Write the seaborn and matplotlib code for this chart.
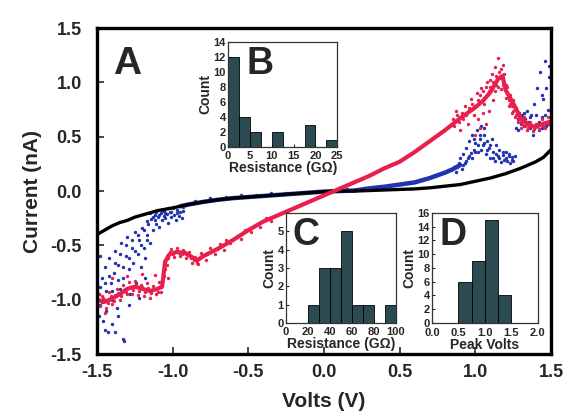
import numpy as np
import pandas as pd
import matplotlib
matplotlib.use("Agg")
import matplotlib.pyplot as plt
import seaborn as sns

# ---------------- main I-V traces ----------------
black_v = [-1.50, -1.45, -1.40, -1.35, -1.30, -1.25, -1.20, -1.15, -1.10, -1.00,
           -0.90, -0.80, -0.70, -0.60, -0.50, -0.40, -0.30, -0.20, -0.10, 0.00,
           0.10, 0.20, 0.30, 0.40, 0.50, 0.60, 0.70, 0.80, 0.90, 1.00,
           1.10, 1.20, 1.30, 1.40, 1.45, 1.50]
black_i = [-0.40, -0.36, -0.32, -0.29, -0.27, -0.24, -0.22, -0.20, -0.18, -0.155,
           -0.125, -0.10, -0.08, -0.065, -0.055, -0.045, -0.035, -0.025, -0.015, -0.005,
           0.00, 0.00, 0.005, 0.01, 0.015, 0.02, 0.03, 0.045, 0.06, 0.09,
           0.12, 0.16, 0.21, 0.27, 0.31, 0.38]

red_v = [-1.50, -1.45, -1.40, -1.35, -1.30, -1.25, -1.20, -1.15, -1.10, -1.07,
         -1.05, -1.02, -0.97, -0.92, -0.88, -0.84, -0.80, -0.70, -0.60, -0.50,
         -0.40, -0.30, -0.20, -0.10, 0.00, 0.10, 0.20, 0.30, 0.40, 0.50,
         0.60, 0.70, 0.80, 0.90, 1.00, 1.05, 1.10, 1.15, 1.18, 1.20,
         1.25, 1.30, 1.35, 1.40, 1.45, 1.50]
red_i = [-1.00, -1.02, -0.99, -0.95, -0.90, -0.88, -0.90, -0.92, -0.90, -0.88,
         -0.65, -0.58, -0.56, -0.57, -0.60, -0.64, -0.60, -0.53, -0.45, -0.36,
         -0.28, -0.22, -0.16, -0.10, -0.04, 0.02, 0.08, 0.14, 0.21, 0.27,
         0.36, 0.46, 0.56, 0.67, 0.77, 0.83, 0.91, 1.03, 1.06, 0.93,
         0.81, 0.67, 0.61, 0.59, 0.62, 0.64]

red_pts_v = [-1.49, -1.48, -1.46, -1.44, -1.42, -1.40, -1.38, -1.37, -1.35, -1.33,
             -1.31, -1.29, -1.27, -1.25, -1.23, -1.21, -1.19, -1.17, -1.15, -1.13,
             -1.11, -1.09, -1.08, -1.06, -1.05, -1.04, -1.03, -1.01, -0.99, -0.97,
             -0.95, -0.93, -0.91, -0.89, -0.87, -0.85, -0.83, -0.81, -0.78, -0.75,
             -0.72, -0.69, -0.66, -1.40, -1.30, -1.20, -1.12, -1.03, -1.45,
             -1.50, -1.47, -1.45, -1.43, -1.41, -1.39, -1.36, -1.34, -1.32, -1.30,
             -1.28, -1.26, -1.24, -1.22, -1.20, -1.18, -1.16, -1.14, -1.12, -1.10,
             -1.08, -1.04, -1.02, -1.00, -0.98, -0.96, -0.94, -0.92, -0.90, -0.88,
             -0.86, -0.84, -0.82, -0.80, -0.77, -0.74, -0.71,
             -0.65, -0.62, -0.58, -0.55, -0.52, -0.48, -0.45, -0.42, -0.38, -0.35,
             0.85, 0.88, 0.90, 0.93, 0.95, 0.97, 0.99, 1.01, 1.02, 1.04,
             1.05, 1.06, 1.08, 1.09, 1.10, 1.11, 1.12, 1.13, 1.14, 1.15,
             1.16, 1.17, 1.18, 1.19, 1.20, 1.21, 1.22, 1.23, 1.24, 1.25,
             1.26, 1.27, 1.28, 1.29, 1.30, 1.32, 1.34, 1.36, 1.38, 1.40,
             1.42, 1.44, 1.46, 1.48, 1.50, 1.00, 1.03, 1.07,
             0.86, 0.87, 0.89, 0.91, 0.92, 0.94, 0.96, 0.98, 1.00, 1.02,
             1.03, 1.05, 1.06, 1.07, 1.08, 1.09, 1.10, 1.12, 1.13, 1.14,
             1.15, 1.16, 1.17, 1.18, 1.19, 1.20, 1.21, 1.22, 1.23, 1.24,
             1.25, 1.26, 1.27, 1.28, 1.29, 1.30, 1.31, 1.33, 1.35, 1.37,
             1.39, 1.41, 1.43, 1.45, 1.47, 1.49]
red_pts_i = [-0.95, -1.06, -0.98, -1.08, -0.93, -1.04, -0.96, -0.90, -1.00, -0.86,
             -0.93, -0.84, -0.95, -0.83, -0.96, -0.86, -0.97, -0.85, -0.98, -0.87,
             -0.95, -0.84, -0.93, -0.78, -0.72, -0.68, -0.62, -0.53, -0.61, -0.52,
             -0.60, -0.54, -0.62, -0.56, -0.66, -0.61, -0.67, -0.57, -0.63, -0.52,
             -0.58, -0.49, -0.54, -0.80, -0.78, -0.76, -0.77, -0.80, -1.12,
             -1.02, -0.97, -1.00, -1.03, -0.97, -1.01, -0.94, -0.97, -0.91, -0.95,
             -0.88, -0.91, -0.86, -0.92, -0.88, -0.93, -0.89, -0.94, -0.90, -0.93,
             -0.88, -0.60, -0.56, -0.58, -0.55, -0.57, -0.58, -0.56, -0.59, -0.62,
             -0.63, -0.66, -0.62, -0.60, -0.58, -0.55, -0.53,
             -0.45, -0.48, -0.42, -0.44, -0.36, -0.38, -0.31, -0.33, -0.25, -0.28,
             0.66, 0.70, 0.56, 0.78, 0.62, 0.85, 0.70, 0.90, 0.66, 0.95,
             0.72, 0.86, 1.00, 0.74, 0.96, 1.08, 0.84, 1.14, 0.98, 1.22,
             1.10, 0.94, 1.16, 1.00, 0.86, 0.96, 0.78, 0.88, 0.72, 0.84,
             0.68, 0.76, 0.64, 0.72, 0.58, 0.68, 0.56, 0.64, 0.55, 0.62,
             0.57, 0.66, 0.58, 0.68, 0.60, 0.52, 0.58, 0.62,
             0.60, 0.74, 0.64, 0.72, 0.66, 0.70, 0.76, 0.80, 0.78, 0.84,
             0.88, 0.92, 0.80, 0.96, 0.88, 0.92, 1.02, 1.00, 0.92, 1.06,
             0.96, 1.04, 1.12, 0.98, 1.08, 0.98, 0.90, 0.84, 0.80, 0.78,
             0.74, 0.76, 0.70, 0.70, 0.66, 0.64, 0.62, 0.60, 0.58, 0.60,
             0.57, 0.60, 0.62, 0.60, 0.64, 0.62]

blue_v = [-0.95, -0.90, -0.80, -0.70, -0.60, -0.50, -0.40, -0.30, -0.20, -0.10,
          0.00, 0.10, 0.20, 0.30, 0.40, 0.50, 0.60, 0.70, 0.80, 0.85, 0.90]
blue_i = [-0.14, -0.125, -0.10, -0.08, -0.065, -0.055, -0.045, -0.035, -0.025, -0.015,
          -0.005, 0.00, 0.005, 0.025, 0.04, 0.06, 0.08, 0.12, 0.17, 0.20, 0.24]

blue_pts_v = [-1.50, -1.49, -1.48, -1.47, -1.46, -1.45, -1.44, -1.43, -1.42, -1.41,
              -1.40, -1.39, -1.38, -1.37, -1.36, -1.35, -1.34, -1.33, -1.32, -1.31,
              -1.30, -1.29, -1.28, -1.27, -1.26, -1.25, -1.24, -1.23, -1.22, -1.21,
              -1.20, -1.19, -1.18, -1.17, -1.16, -1.15, -1.14, -1.13, -1.12, -1.11,
              -1.10, -1.09, -1.08, -1.07, -1.06, -1.05, -1.04, -1.03, -1.02, -1.01,
              -1.00, -0.99, -0.98, -0.97, -0.96, -0.95, -0.94, -0.93,
              -1.38, -1.33, -1.45, -1.29, -1.22, -1.18, -1.48,
              -1.15, -1.13, -1.11, -1.09, -1.07, -1.05, -1.03, -1.01, -0.99, -0.97,
              -0.95, -0.93, -0.91, -1.17, -1.12, -1.06,
              -1.49, -1.47, -1.45, -1.44, -1.42, -1.40, -1.38, -1.36, -1.35, -1.33,
              -1.31, -1.29, -1.27, -1.25, -1.23, -1.21, -1.19, -1.17, -1.40, -1.36,
              -1.50, -1.48,
              -0.85, -0.75, -0.65, -0.55, -0.45, -0.35, -0.25, -0.15, -0.05, 0.05,
              0.15, 0.25, 0.35, 0.45, 0.55, 0.65, 0.75,
              0.88, 0.90, 0.91, 0.92, 0.93, 0.94, 0.95, 0.96, 0.97, 0.98,
              0.99, 1.00, 1.01, 1.02, 1.03, 1.04, 1.05, 1.06, 1.07, 1.08,
              1.09, 1.10, 1.11, 1.12, 1.13, 1.14, 1.15, 1.16, 1.17, 1.18,
              1.19, 1.20, 1.21, 1.22, 1.23, 1.24, 1.25, 1.27, 1.28, 1.29,
              1.30, 1.31, 1.32, 1.33, 1.34, 1.35, 1.36, 1.37, 1.38, 1.39,
              1.40, 1.41, 1.42, 1.43, 1.44, 1.45, 1.46, 1.47, 1.48, 1.49, 1.50,
              0.86, 0.87, 0.89, 0.92, 0.94, 0.96, 0.98, 1.00, 1.02, 1.04,
              1.06, 1.08, 1.10, 1.12, 1.14, 1.16, 1.18, 1.20, 1.22, 1.24,
              1.26, 1.28, 1.30, 1.32, 1.34, 1.36, 1.38, 1.40, 1.42, 1.44,
              1.46, 1.48, 1.50, 1.47, 1.49, 1.44, 1.06, 1.03, 0.99]
blue_pts_i = [-1.12, -0.95, -1.05, -0.80, -1.20, -0.70, -0.92, -1.30, -0.62, -0.85,
              -1.00, -0.75, -0.55, -1.08, -0.68, -0.90, -0.48, -0.80, -1.38, -0.60,
              -0.42, -0.72, -0.95, -0.52, -0.66, -0.38, -0.85, -0.58, -0.45, -0.70,
              -0.34, -0.52, -0.62, -0.40, -0.30, -0.48, -0.26, -0.36, -0.22, -0.30,
              -0.24, -0.33, -0.20, -0.27, -0.18, -0.25, -0.21, -0.29, -0.19, -0.24,
              -0.16, -0.22, -0.27, -0.17, -0.23, -0.19, -0.25, -0.15,
              -1.30, -1.36, -1.28, -1.05, -0.98, -0.80, -0.60,
              -0.20, -0.24, -0.19, -0.22, -0.17, -0.20, -0.16, -0.19, -0.15, -0.20,
              -0.14, -0.18, -0.13, -0.28, -0.27, -0.23,
              -1.15, -1.02, -0.85, -1.10, -0.78, -0.92, -0.66, -0.82, -0.58, -0.70,
              -0.50, -0.62, -0.45, -0.55, -0.40, -0.50, -0.36, -0.45, -1.22, -1.15,
              -1.05, -0.88,
              -0.09, -0.065, -0.055, -0.04, -0.035, -0.02, -0.015, -0.005, 0.005, 0.01,
              0.015, 0.02, 0.04, 0.055, 0.075, 0.10, 0.15,
              0.22, 0.30, 0.20, 0.34, 0.26, 0.40, 0.30, 0.46, 0.35, 0.52,
              0.38, 0.44, 0.56, 0.36, 0.48, 0.60, 0.42, 0.52, 0.34, 0.46,
              0.40, 0.30, 0.48, 0.36, 0.28, 0.42, 0.32, 0.38, 0.27, 0.33,
              0.29, 0.36, 0.28, 0.32, 0.26, 0.31, 0.28, 0.58, 0.66, 0.72,
              0.62, 0.70, 0.60, 0.66, 0.74, 0.64, 0.58, 0.70, 0.52, 0.80,
              0.62, 0.95, 0.56, 1.10, 0.68, 0.85, 1.20, 0.60, 0.75, 1.05, 0.66,
              0.22, 0.18, 0.26, 0.24, 0.28, 0.32, 0.30, 0.36, 0.42, 0.38,
              0.44, 0.38, 0.42, 0.30, 0.34, 0.30, 0.36, 0.30, 0.34, 0.29,
              0.32, 0.56, 0.68, 0.72, 0.62, 0.68, 0.60, 0.70, 0.64, 0.58,
              0.70, 0.62, 0.72, 0.95, 1.15, 0.88, 0.58, 0.52, 0.48]

# ---------------- histogram insets ----------------
b_edges = [0, 2.5, 5, 7.5, 10, 12.5, 15, 17.5, 20, 22.5, 25]
b_counts = [12, 4, 2, 0, 2, 0, 0, 3, 0, 1]
c_edges = [20, 30, 40, 50, 60, 70, 80, 90, 100]
c_counts = [1, 3, 3, 5, 1, 1, 0, 1]
d_edges = [0.5, 0.75, 1.0, 1.25, 1.5]
d_counts = [6, 9, 15, 4]

RED = "#e8204e"
BLUE = "#2233b0"
BAR = "#2c4a52"

sns.set_theme(style="ticks")
plt.rcParams["font.family"] = ["Liberation Sans", "DejaVu Sans"]
plt.rcParams["font.weight"] = "bold"

fig = plt.figure(figsize=(5.66, 4.19), dpi=100)
ax = fig.add_axes([0.1714, 0.155, 0.802, 0.778])

sns.lineplot(x=blue_v, y=blue_i, ax=ax, color=BLUE, lw=3.2, sort=False, estimator=None)
sns.scatterplot(x=blue_pts_v, y=blue_pts_i, ax=ax, color=BLUE, s=6, linewidth=0)
sns.lineplot(x=black_v, y=black_i, ax=ax, color="black", lw=2.4, sort=False, estimator=None)
sns.lineplot(x=red_v, y=red_i, ax=ax, color=RED, lw=3.0, sort=False, estimator=None)
sns.scatterplot(x=red_pts_v, y=red_pts_i, ax=ax, color=RED, s=6, linewidth=0)

ax.set_xlim(-1.5, 1.5)
ax.set_ylim(-1.5, 1.5)
ticks = [-1.5, -1.0, -0.5, 0.0, 0.5, 1.0, 1.5]
tick_labels = ["-1.5", "-1.0", "-0.5", "0.0", "0.5", "1.0", "1.5"]
ax.set_xticks(ticks)
ax.set_yticks(ticks)
ax.set_xticklabels(tick_labels)
ax.set_yticklabels(tick_labels)
ax.tick_params(direction="in", length=5, width=1.2, labelsize=13)
ax.tick_params(axis="x", pad=7)
ax.tick_params(axis="y", pad=11)
for lab in ax.get_xticklabels() + ax.get_yticklabels():
    lab.set_fontweight("bold")
for sp in ax.spines.values():
    sp.set_visible(True)
    sp.set_linewidth(2.4)
    sp.set_color("black")
ax.set_xlabel("Volts (V)", fontsize=15, fontweight="bold", labelpad=8)
ax.set_ylabel("Current (nA)", fontsize=15, fontweight="bold", labelpad=6)
ax.text(0.035, 0.945, "A", transform=ax.transAxes, fontsize=28, fontweight="bold",
        va="top", ha="left")


def inset(rect, edges, counts, xlim, ylim, xticks, yticks, xticklabels, xlabel,
          letter, letter_x, xpad=2.5):
    a = fig.add_axes(rect)
    a.set_facecolor("white")
    centers = [(edges[k] + edges[k + 1]) / 2 for k in range(len(counts))]
    sns.histplot(x=centers, weights=counts, bins=edges, ax=a, color=BAR,
                 edgecolor="black", linewidth=0.6, alpha=1.0)
    a.set_xlim(*xlim)
    a.set_ylim(*ylim)
    a.set_xticks(xticks)
    a.set_xticklabels(xticklabels)
    a.set_yticks(yticks)
    a.tick_params(direction="in", length=2, width=0.8, labelsize=8)
    a.tick_params(axis="x", pad=xpad)
    a.tick_params(axis="y", pad=1.5)
    for lab in a.get_xticklabels() + a.get_yticklabels():
        lab.set_fontweight("bold")
    for sp in a.spines.values():
        sp.set_visible(True)
        sp.set_linewidth(0.9)
        sp.set_color("#333333")
    a.set_xlabel(xlabel, fontsize=10, fontweight="bold", labelpad=0)
    a.set_ylabel("Count", fontsize=10, fontweight="bold", labelpad=1)
    a.text(letter_x, 0.96, letter, transform=a.transAxes, fontsize=27,
           fontweight="bold", va="top", ha="left")
    return a


inset([0.403, 0.649, 0.193, 0.251], b_edges, b_counts, (0, 25), (0, 14),
      [0, 5, 10, 15, 20, 25], [0, 2, 4, 6, 8, 10, 12, 14],
      ["0", "5", "10", "15", "20", "25"], "Resistance (G\u03a9)", "B", 0.17)
inset([0.505, 0.229, 0.194, 0.263], c_edges, c_counts, (0, 100), (0, 6),
      [0, 20, 40, 60, 80, 100], [0, 1, 2, 3, 4, 5],
      ["0", "20", "40", "60", "80", "100"], "Resistance (G\u03a9)", "C", 0.06)
inset([0.763, 0.229, 0.187, 0.263], d_edges, d_counts, (0, 2.0), (0, 16),
      [0.0, 0.5, 1.0, 1.5, 2.0], [0, 2, 4, 6, 8, 10, 12, 14, 16],
      ["0.0", "0.5", "1.0", "1.5", "2.0"], "Peak Volts", "D", 0.07, xpad=3.5)

fig.savefig("out.png", dpi=100)
